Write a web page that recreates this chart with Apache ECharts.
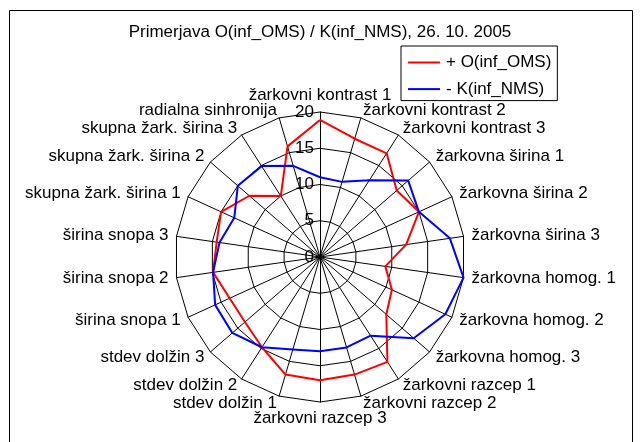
<!DOCTYPE html>
<html>
<head>
<meta charset="utf-8">
<script src="https://cdn.jsdelivr.net/npm/echarts@6/dist/echarts.min.js"></script>
<style>
html, body { margin: 0; padding: 0; background: #fff; }
#chart { width: 640px; height: 442px; }
</style>
</head>
<body>
<div id="chart"></div>
<script>
const titleText = 'Primerjava O(inf_OMS) / K(inf_NMS), 26. 10. 2005';
const categories = ['žarkovni kontrast 1', 'žarkovni kontrast 2', 'žarkovni kontrast 3',
  'žarkovna širina 1', 'žarkovna širina 2', 'žarkovna širina 3',
  'žarkovna homog. 1', 'žarkovna homog. 2', 'žarkovna homog. 3',
  'žarkovni razcep 1', 'žarkovni razcep 2', 'žarkovni razcep 3',
  'stdev dolžin 1', 'stdev dolžin 2', 'stdev dolžin 3',
  'širina snopa 1', 'širina snopa 2', 'širina snopa 3',
  'skupna žark. širina 1', 'skupna žark. širina 2', 'skupna žark. širina 3',
  'radialna sinhronija'];
const seriesNames = ['+ O(inf_OMS)', '- K(inf_NMS)'];
const omsValues = [18.9, 17.0, 17.0, 14.0, 15.0, 12.0, 9.1, 10.9, 12.1, 17.2, 16.9, 17.0,
  16.9, 14.8, 13.7, 13.7, 14.9, 14.4, 15.0, 12.9, 10.0, 15.9];
const nmsValues = [11.0, 10.8, 12.6, 16.1, 15.0, 18.1, 20.0, 19.0, 17.1, 12.9, 13.0, 13.0,
  13.3, 14.8, 16.0, 15.9, 14.9, 14.0, 13.0, 15.0, 14.9, 13.1];
const axisMax = 20;
const axisInterval = 5;

// ECharts radar runs counter-clockwise; reorder so the categories run clockwise
const order = [0];
for (let i = categories.length - 1; i >= 1; i--) order.push(i);

const FONT = 'Liberation Sans, Arial, sans-serif';
const chart = echarts.init(document.getElementById('chart'), null, { renderer: 'canvas' });
chart.setOption({
  animation: false,
  backgroundColor: '#ffffff',
  textStyle: { fontFamily: FONT },
  graphic: [{
    type: 'rect',
    shape: { x: 9.5, y: 10.5, width: 623, height: 440 },
    style: { fill: 'none', stroke: '#000', lineWidth: 1 },
    silent: true
  }],
  title: {
    text: titleText,
    left: 'center',
    top: 24,
    padding: 0,
    textStyle: { fontSize: 17, fontWeight: 'normal', color: '#000', fontFamily: FONT }
  },
  legend: {
    orient: 'vertical',
    left: 401,
    top: 46,
    padding: [8, 6, 3, 7],
    itemGap: 9.6,
    itemWidth: 32,
    itemHeight: 2,
    icon: 'rect',
    borderColor: '#000',
    borderWidth: 1,
    borderRadius: 0,
    backgroundColor: '#fff',
    textStyle: { fontSize: 17, color: '#000', fontFamily: FONT, padding: [0, 0, 0, 1] },
    data: seriesNames
  },
  radar: {
    center: [320, 257],
    radius: 145,
    startAngle: 90,
    shape: 'polygon',
    splitNumber: axisMax / axisInterval,
    indicator: order.map(i => ({ name: categories[i], min: 0, max: axisMax })),
    axisName: { color: '#000', fontSize: 17, fontFamily: FONT },
    nameGap: 8,
    axisLine: { lineStyle: { color: '#000', width: 1 } },
    splitLine: { lineStyle: { color: '#000', width: 1 } },
    splitArea: { show: false },
    axisTick: { show: false },
    axisLabel: { show: false }
  },
  polar: { center: [320, 257], radius: 145 },
  angleAxis: { type: 'value', min: 0, max: 360, startAngle: 90, show: false },
  radiusAxis: {
    type: 'value', min: 0, max: axisMax, interval: axisInterval,
    axisLine: { show: false }, axisTick: { show: false }, splitLine: { show: false },
    axisLabel: { color: '#000', fontSize: 17, fontFamily: FONT, margin: 6 },
    z: 10
  },
  series: [{
    type: 'radar',
    symbol: 'none',
    data: [
      { name: seriesNames[0], value: order.map(i => omsValues[i]),
        lineStyle: { color: '#ff0000', width: 2 }, itemStyle: { color: '#ff0000' } },
      { name: seriesNames[1], value: order.map(i => nmsValues[i]),
        lineStyle: { color: '#0000ff', width: 2 }, itemStyle: { color: '#0000ff' } }
    ]
  }]
});
</script>
</body>
</html>
